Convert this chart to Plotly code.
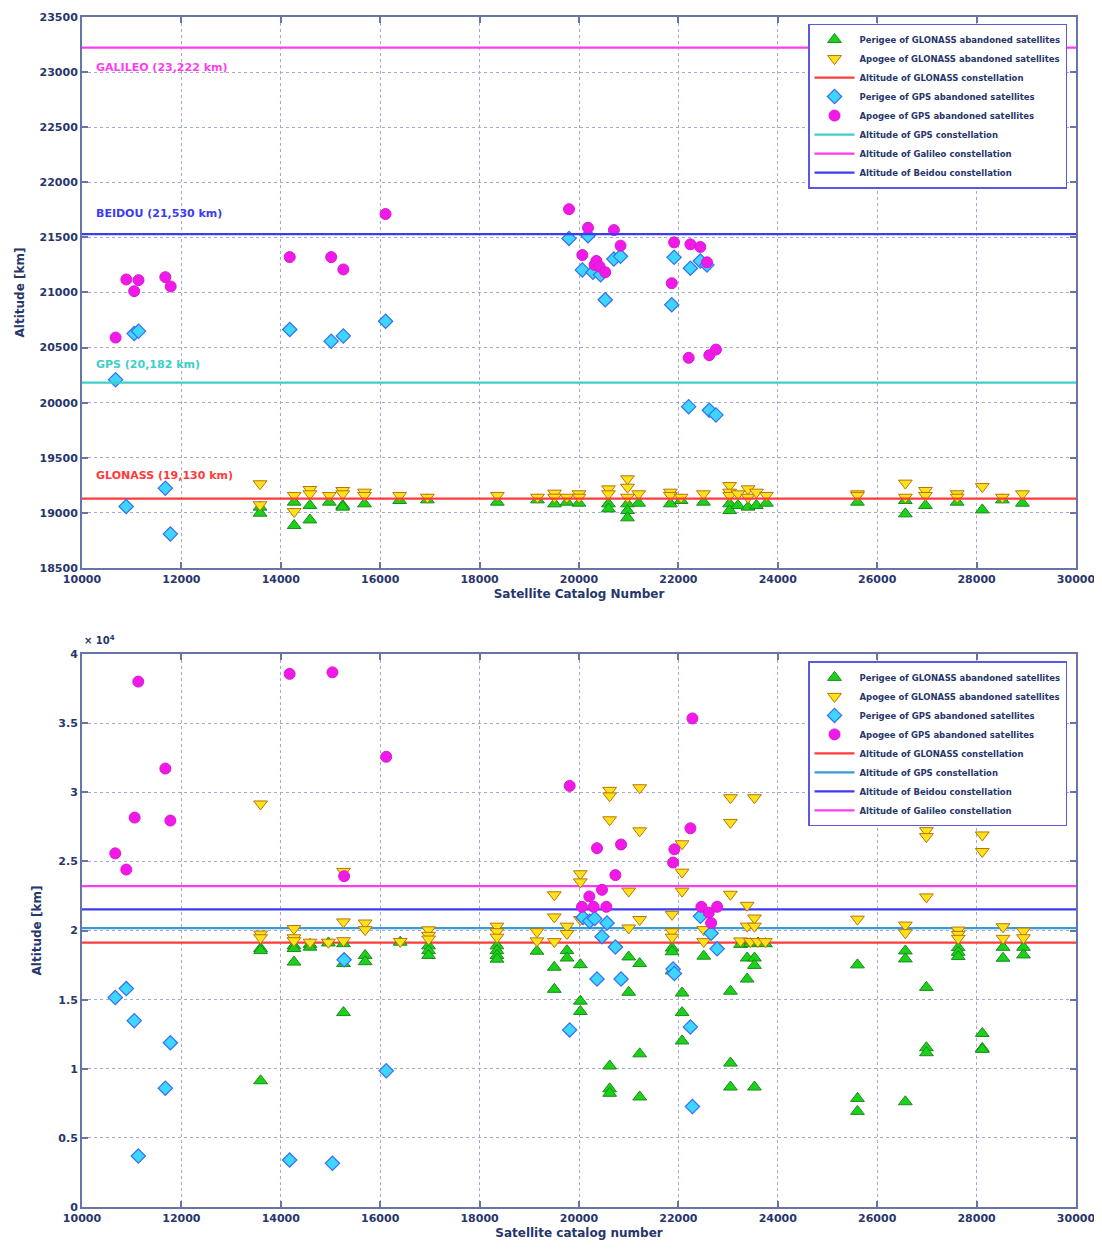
import plotly.graph_objects as go

# ---------------- constellation altitudes ----------------
alt_glonass = 19130
alt_gps = 20182
alt_beidou = 21530
alt_galileo = 23222
x_range = [10000, 30000]

# ---------------- TOP chart data ----------------
top_gps_per_x = [10676, 10889, 11050, 11137, 11677, 11778, 14180, 15014, 15259, 16108, 19799, 20067, 20181,
                 20281, 20435, 20528, 20702, 20836, 21866, 21913, 22207, 22241, 22441, 22575, 22622, 22756]
top_gps_per_y = [20209, 19058, 20627, 20649, 19224, 18809, 20664, 20558, 20606, 20739, 21491, 21205, 21515,
                 21184, 21160, 20934, 21304, 21328, 20889, 21319, 19964, 21220, 21286, 21250, 19931, 19889]

top_gps_apo_x = [10676, 10892, 11050, 11137, 11676, 11784, 14180, 15014, 15259, 16108, 19799, 20067, 20181,
                 20314, 20348, 20415, 20528, 20702, 20836, 21866, 21913, 22207, 22241, 22441, 22575, 22622, 22756]
top_gps_apo_y = [20591, 21118, 21012, 21112, 21139, 21055, 21321, 21321, 21209, 21712, 21756, 21340, 21587,
                 21250, 21286, 21235, 21184, 21566, 21425, 21084, 21455, 20407, 21437, 21413, 21274, 20431, 20482]

top_glo_apo_x = [13582, 13582, 14269, 14269, 14586, 14586, 14976, 15246, 15246, 15684, 15684, 16391, 16949,
                 18357, 19165, 19508, 19508, 19758, 20000, 20000, 20593, 20593, 20976, 20976, 20976, 21199,
                 21838, 21838, 22054, 22505, 23030, 23030, 23030, 23199, 23401, 23401, 23569, 23771, 25603,
                 25603, 26566, 26566, 26970, 26970, 27609, 27609, 28114, 28519, 28923]
top_glo_apo_y = [19264, 19073, 19158, 19012, 19212, 19173, 19158, 19203, 19173, 19188, 19158, 19158, 19142,
                 19158, 19142, 19179, 19142, 19142, 19173, 19142, 19218, 19173, 19309, 19233, 19142, 19173,
                 19188, 19158, 19142, 19173, 19248, 19188, 19158, 19173, 19218, 19142, 19188, 19158, 19173,
                 19158, 19270, 19142, 19203, 19158, 19173, 19142, 19239, 19142, 19173]

top_glo_per_x = [13582, 13582, 14269, 14269, 14586, 14586, 14976, 15246, 15246, 15684, 16391, 16949, 18357,
                 19165, 19508, 19758, 20000, 20593, 20593, 20976, 20976, 20976, 21199, 21838, 22054, 22505,
                 23030, 23030, 23199, 23401, 23569, 23771, 25603, 26566, 26566, 26970, 27609, 28114, 28519,
                 28923]
top_glo_per_y = [19052, 18997, 19097, 18885, 19067, 18936, 19097, 19067, 19052, 19082, 19112, 19118, 19097,
                 19118, 19082, 19097, 19088, 19082, 19036, 19082, 19021, 18955, 19088, 19082, 19112, 19097,
                 19082, 19021, 19067, 19052, 19067, 19088, 19097, 18991, 19112, 19067, 19097, 19027, 19118,
                 19088]

top_yticks = [18500, 19000, 19500, 20000, 20500, 21000, 21500, 22000, 22500, 23000, 23500]
x_ticks = [10000, 12000, 14000, 16000, 18000, 20000, 22000, 24000, 26000, 28000, 30000]

# ---------------- BOTTOM chart data ----------------
bot_gps_apo_x = [11133, 14178, 15039, 11677, 16121, 11059, 11778, 10669, 10891, 15274, 19812, 22282, 20362,
                 20846, 20732, 20463, 20208, 20060, 20295, 20550, 22242, 21919, 21893, 22463, 22611, 22779, 22658]
bot_gps_apo_y = [38013, 38573, 38680, 31720, 32573, 28173, 27960, 25587, 24413, 23933, 30467, 35347, 25960,
                 26227, 24013, 22947, 22467, 21720, 21720, 21720, 27400, 25880, 24920, 21720, 21293, 21720, 20547]

bot_gps_per_x = [10669, 10891, 11052, 11778, 11677, 11133, 14178, 15039, 16121, 15274, 19812, 22282, 20081,
                 20215, 20315, 20564, 20463, 20732, 20362, 20846, 21893, 21919, 22242, 22443, 22658, 22779]
bot_gps_per_y = [15160, 15800, 13480, 11880, 8600, 3693, 3400, 3160, 9853, 17880, 12813, 7267, 20947,
                 20680, 20867, 20547, 19560, 18813, 16493, 16493, 17213, 16893, 13027, 21027, 19800, 18680]

bot_glo_per_x = [13593, 13593, 13593, 14265, 14265, 14265, 14588, 14588, 14958, 15261, 15261, 15261, 15697,
                 15697, 16403, 16973, 16973, 16973, 18349, 18349, 18349, 18349, 19154, 19503, 19503, 19758,
                 19758, 20027, 20027, 20027, 20617, 20617, 20617, 21000, 21000, 21221, 21221, 21221, 21872,
                 21872, 21872, 22074, 22074, 22074, 22510, 23047, 23047, 23047, 23383, 23383, 23530, 23530,
                 23530, 23250, 23450, 23600, 23750, 25603, 25603, 25603, 26566, 26566, 26566, 26990, 26990,
                 26990, 27630, 27630, 27630, 28114, 28114, 28114, 28532, 28532, 28943, 28943]
bot_glo_per_y = [18700, 18550, 9133, 18893, 18700, 17720, 19000, 18800, 19107, 19053, 17613, 14067, 18200,
                 17747, 19160, 18893, 18547, 18200, 18893, 18547, 18200, 17933, 18507, 17347, 15747, 18547,
                 18013, 17533, 14893, 14147, 10200, 8547, 8227, 18093, 15533, 17613, 11080, 7960, 18733,
                 18467, 17080, 15480, 14067, 12013, 18147, 15613, 10413, 8680, 18013, 16493, 18013, 17480,
                 8680, 19000, 19050, 19100, 19050, 17518, 7854, 6918, 18525, 17950, 7614, 15887, 11523,
                 11163, 18765, 18429, 18118, 12554, 11475, 11403, 18789, 17998, 18789, 18237]

bot_glo_apo_x = [13593, 13593, 13593, 14265, 14265, 14265, 14588, 14958, 15261, 15261, 15261, 15697, 15697,
                 16403, 16973, 16973, 16973, 18349, 18349, 18349, 19154, 19154, 19503, 19503, 19503, 19758,
                 19758, 20027, 20027, 20027, 20617, 20617, 20617, 21000, 21000, 21221, 21221, 21221, 21872,
                 21872, 21872, 22074, 22074, 22074, 22510, 22510, 23047, 23047, 23047, 23383, 23383, 23530,
                 23530, 23530, 23250, 23450, 23600, 23750, 25603, 26566, 26566, 26990, 26990, 26990, 27630,
                 27630, 27630, 28114, 28114, 28532, 28532, 28943, 28943]
bot_glo_apo_y = [29160, 19747, 19480, 20147, 19480, 19267, 19160, 19160, 24280, 20627, 19267, 20547, 20067,
                 19213, 20053, 19653, 19387, 20320, 19920, 19520, 19920, 19253, 22587, 20987, 19200, 20320,
                 19787, 24107, 23520, 20800, 30147, 29747, 28013, 22853, 20187, 30333, 27213, 20800, 21173,
                 19920, 19520, 26280, 24227, 22853, 20067, 19200, 29613, 27827, 22627, 21827, 20320, 29613,
                 20907, 20320, 19250, 19200, 19200, 19200, 20827, 20396, 19844, 27230, 26799, 22434, 20036,
                 19724, 19436, 26918, 25719, 20276, 19436, 19964, 19484]

bot_yticks = [0, 5000, 10000, 15000, 20000, 25000, 30000, 35000, 40000]
bot_yticktext = ["0", "0.5", "1", "1.5", "2", "2.5", "3", "3.5", "4"]

# ---------------- styles ----------------
NAVY = "#27366B"
AXIS = "#6874A6"
GRID = "#A3AACB"
FONT = "DejaVu Sans"
C_GLO = "#FF3B3B"
C_GPS_TOP = "#3CCFC8"
C_GPS_BOT = "#3A9AD6"
C_BEI = "#3C3CF0"
C_GAL = "#FF3CF0"

green_m = dict(symbol="triangle-up", size=12, color="#19D219", line=dict(color="#1E8A1E", width=1))
yellow_m = dict(symbol="triangle-down", size=12, color="#FFE21A", line=dict(color="#B8740A", width=1))
cyan_m = dict(symbol="diamond", size=11, color="#3CD6FF", line=dict(color="#3A6CF0", width=1.2))
mag_m = dict(symbol="circle", size=11, color="#F019E6", line=dict(color="#D818D8", width=1))

fig = go.Figure()

def hline(y, color, name, xa, ya, legend, rank):
    fig.add_trace(go.Scatter(x=x_range, y=[y, y], mode="lines", line=dict(color=color, width=2.2),
                             name=name, xaxis=xa, yaxis=ya, legend=legend, legendrank=rank,
                             hoverinfo="skip"))

def pts(x, y, marker, name, xa, ya, legend, rank):
    fig.add_trace(go.Scatter(x=x, y=y, mode="markers", marker=marker, name=name, xaxis=xa, yaxis=ya,
                             legend=legend, legendrank=rank))

# ---- top chart ----
pts(top_glo_per_x, top_glo_per_y, green_m, "Perigee of GLONASS abandoned satellites", "x", "y", "legend", 1)
pts(top_glo_apo_x, top_glo_apo_y, yellow_m, "Apogee of GLONASS abandoned satellites", "x", "y", "legend", 2)
hline(alt_glonass, C_GLO, "Altitude of GLONASS constellation", "x", "y", "legend", 3)
pts(top_gps_per_x, top_gps_per_y, cyan_m, "Perigee of GPS abandoned satellites", "x", "y", "legend", 4)
pts(top_gps_apo_x, top_gps_apo_y, mag_m, "Apogee of GPS abandoned satellites", "x", "y", "legend", 5)
hline(alt_gps, C_GPS_TOP, "Altitude of GPS constellation", "x", "y", "legend", 6)
hline(alt_galileo, C_GAL, "Altitude of Galileo constellation", "x", "y", "legend", 7)
hline(alt_beidou, C_BEI, "Altitude of Beidou constellation", "x", "y", "legend", 8)

# ---- bottom chart ----
hline(alt_glonass, C_GLO, "Altitude of GLONASS constellation", "x2", "y2", "legend2", 5)
hline(alt_gps, C_GPS_BOT, "Altitude of GPS constellation", "x2", "y2", "legend2", 6)
hline(alt_beidou, C_BEI, "Altitude of Beidou constellation", "x2", "y2", "legend2", 7)
hline(alt_galileo, C_GAL, "Altitude of Galileo constellation", "x2", "y2", "legend2", 8)
pts(bot_glo_per_x, bot_glo_per_y, green_m, "Perigee of GLONASS abandoned satellites", "x2", "y2", "legend2", 1)
pts(bot_glo_apo_x, bot_glo_apo_y, yellow_m, "Apogee of GLONASS abandoned satellites", "x2", "y2", "legend2", 2)
pts(bot_gps_per_x, bot_gps_per_y, cyan_m, "Perigee of GPS abandoned satellites", "x2", "y2", "legend2", 3)
pts(bot_gps_apo_x, bot_gps_apo_y, mag_m, "Apogee of GPS abandoned satellites", "x2", "y2", "legend2", 4)

axis_common = dict(showline=True, linecolor=AXIS, linewidth=2, mirror="ticks", ticks="inside",
                   ticklen=6, tickcolor=AXIS, tickwidth=2, showgrid=True, gridcolor=GRID,
                   griddash="dot", gridwidth=1, zeroline=False,
                   tickfont=dict(family=FONT, size=11, color=NAVY, weight="bold"))
title_font = dict(family=FONT, size=12, color=NAVY, weight="bold")

legend_common = dict(xanchor="left", yanchor="top", bgcolor="white", bordercolor="#5A5AE0",
                     borderwidth=1.5, font=dict(family=FONT, size=8.5, color=NAVY, weight="bold"),
                     itemwidth=40, tracegroupgap=0, traceorder="normal")

# the page body adds an 8 px offset; size and margins compensate for it
fig.update_layout(
    width=1094, height=1246,
    margin=dict(l=74, r=26, t=3, b=47),
    paper_bgcolor="white", plot_bgcolor="white",
    showlegend=True,
    xaxis=dict(domain=[0, 1], range=x_range, tickvals=x_ticks, tickformat="d", anchor="y",
               title=dict(text="Satellite Catalog Number", standoff=4, font=title_font), **axis_common),
    yaxis=dict(domain=[0.537, 1], range=[18500, 23500], tickvals=top_yticks, tickformat="d", anchor="x",
               title=dict(text="Altitude [km]", standoff=12, font=title_font), **axis_common),
    xaxis2=dict(domain=[0, 1], range=x_range, tickvals=x_ticks, tickformat="d", anchor="y2",
                title=dict(text="Satellite catalog number", standoff=4, font=title_font), **axis_common),
    yaxis2=dict(domain=[0, 0.4646], range=[0, 40000], tickvals=bot_yticks, ticktext=bot_yticktext, anchor="x2",
                title=dict(text="Altitude [km]", standoff=14, font=title_font), **axis_common),
    legend=dict(x=0.7304, y=0.9945, **legend_common),
    legend2=dict(x=0.7304, y=0.4585, **legend_common),
)

labels = [("GALILEO (23,222 km)", 23040, C_GAL), ("BEIDOU (21,530 km)", 21716, C_BEI),
          ("GPS (20,182 km)", 20347, C_GPS_TOP), ("GLONASS (19,130 km)", 19338, C_GLO)]
for txt, yy, col in labels:
    fig.add_annotation(x=10250, y=yy, xref="x", yref="y", text=txt, showarrow=False, xanchor="left",
                       yanchor="middle", font=dict(family=FONT, size=11, color=col, weight="bold"))

fig.add_annotation(x=0, y=0.4762, xref="paper", yref="paper", text="× 10<sup>4</sup>", showarrow=False,
                   xanchor="left", yanchor="middle", font=dict(family=FONT, size=10, color=NAVY, weight="bold"))

fig.write_html("out.html")
